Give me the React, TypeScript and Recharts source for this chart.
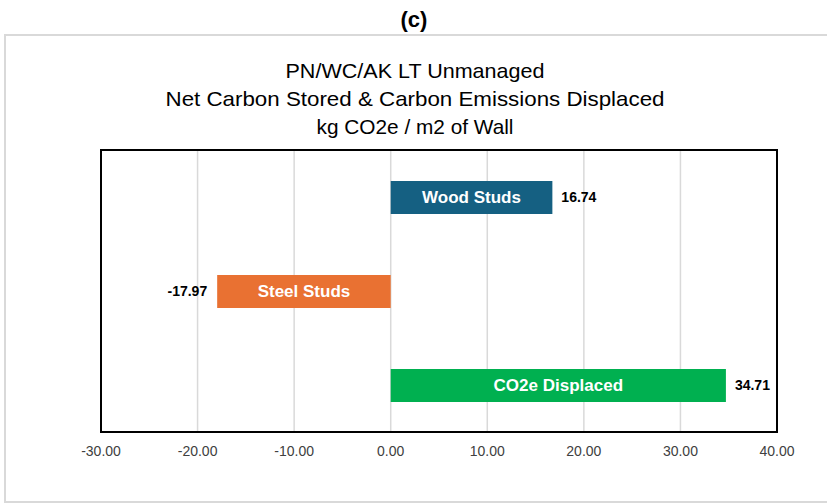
import { Bar, BarChart, CartesianGrid, Cell, LabelList, ReferenceArea, XAxis, YAxis } from "recharts";

const categories = ["Wood Studs", "Steel Studs", "CO2e Displaced"];
const values = [16.74, -17.97, 34.71];
const barColors = ["#156082", "#E97132", "#00B050"];
const xTicks = [-30, -20, -10, 0, 10, 20, 30, 40];
const titleLines = [
  "PN/WC/AK LT Unmanaged",
  "Net Carbon Stored & Carbon Emissions Displaced",
  "kg CO2e / m2 of Wall",
];
// rough widths measured from the reference, used only to squeeze the narrow title font
const titleWidths = [259, 499, 197];

const data = categories.map((name, i) => ({ name, value: values[i], color: barColors[i] }));

const W = 827;
const H = 503;
const LABEL_FONT = "'Liberation Sans', Arial, sans-serif";

function ValueLabel(props: any) {
  const { x, y, width, height, value } = props;
  const end = x + width;
  const neg = width < 0 || value < 0;
  return (
    <text
      x={neg ? Math.min(x, end) - 10 : Math.max(x, end) + 9}
      y={y + height / 2}
      dy="0.35em"
      textAnchor={neg ? "end" : "start"}
      fontFamily={LABEL_FONT}
      fontWeight="bold"
      fontSize={14}
      fill="#000"
    >
      {Number(value).toFixed(2)}
    </text>
  );
}

// category name centred inside its bar, never wrapped
function NameLabel(props: any) {
  const { x, y, width, height, value } = props;
  return (
    <text
      x={x + width / 2}
      y={y + height / 2}
      dy="0.35em"
      textAnchor="middle"
      fontFamily={LABEL_FONT}
      fontWeight="bold"
      fontSize={17}
      fill="#fff"
    >
      {value}
    </text>
  );
}

export default function App() {
  return (
    <div style={{ position: "absolute", left: 0, top: 0, width: W, height: H, background: "#fff" }}>
      <svg width={W} height={H} style={{ position: "absolute", left: 0, top: 0 }}>
        <rect x={5} y={35} width={W + 10} height={H - 36} fill="none" stroke="#d9d9d9" strokeWidth={2} />
        <text x={414} y={27} textAnchor="middle" fontFamily={LABEL_FONT} fontWeight="bold" fontSize={22} fill="#000">
          (c)
        </text>
        {titleLines.map((t, i) => (
          <text
            key={t}
            x={415}
            y={78 + i * 28}
            textAnchor="middle"
            fontFamily={LABEL_FONT}
            fontSize={21}
            fill="#000"
            textLength={titleWidths[i]}
            lengthAdjust="spacingAndGlyphs"
          >
            {t}
          </text>
        ))}
      </svg>
      <div style={{ position: "absolute", left: 0, top: 0 }}>
        <BarChart
          width={W}
          height={H}
          data={data}
          layout="vertical"
          margin={{ top: 150, right: 50, bottom: 41, left: 101 }}
          barSize={33}
        >
          <CartesianGrid horizontal={false} stroke="#d9d9d9" strokeWidth={1.5} />
          <XAxis
            type="number"
            domain={[-30, 40]}
            ticks={xTicks}
            tickFormatter={(v: number) => v.toFixed(2)}
            axisLine={false}
            tickLine={false}
            tickMargin={8}
            height={30}
            tick={{ fontSize: 14, fill: "#404040", fontFamily: LABEL_FONT }}
            interval={0}
          />
          <YAxis type="category" dataKey="name" hide />
          <Bar dataKey="value" isAnimationActive={false}>
            {data.map((d) => (
              <Cell key={d.name} fill={d.color} />
            ))}
            <LabelList dataKey="name" content={NameLabel} />
            <LabelList dataKey="value" content={ValueLabel} />
          </Bar>
          <ReferenceArea
            x1={-30}
            x2={40}
            fill="none"
            stroke="#000"
            strokeWidth={2}
            fillOpacity={0}
            ifOverflow="visible"
          />
        </BarChart>
      </div>
    </div>
  );
}
